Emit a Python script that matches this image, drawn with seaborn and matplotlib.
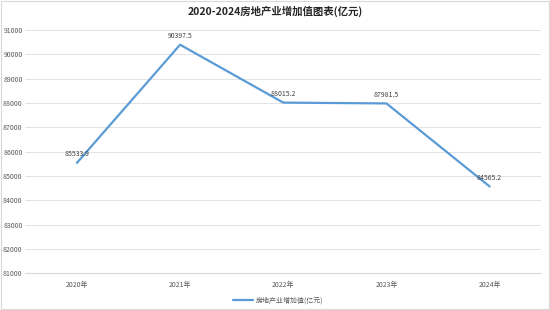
import matplotlib
matplotlib.use("Agg")
import matplotlib.pyplot as plt
import seaborn as sns
import pandas as pd

years = ["2020年", "2021年", "2022年", "2023年", "2024年"]
values = [85533.9, 90397.5, 88015.2, 87981.5, 84565.2]
series_name = "房地产业增加值(亿元)"
title = "2020-2024房地产业增加值图表(亿元)"
yticks = list(range(81000, 91001, 1000))

sns.set_theme(style="white")
plt.rcParams['font.family'] = ['Noto Sans CJK SC', 'DejaVu Sans']

df = pd.DataFrame({"year": years, "value": values})

fig = plt.figure(figsize=(5.5, 3.1), dpi=100)
ax = fig.add_axes([0.046, 0.119, 0.938, 0.784])
color = "#5B9BD5"
sns.lineplot(data=df, x="year", y="value", ax=ax, color=color, linewidth=1.6,
             label=series_name, sort=False)

ax.set_ylim(81000, 91000)
ax.set_xlim(-0.5, len(years) - 0.5)
ax.set_yticks(yticks)
ax.set_yticklabels([str(v) for v in yticks], fontsize=5, color="#595959")
ax.tick_params(axis="x", labelsize=5, colors="#595959", length=0, pad=6)
ax.tick_params(axis="y", length=0, pad=2)
ax.set_xlabel("")
ax.set_ylabel("")
ax.grid(axis="y", color="#e3e3e3", linewidth=0.7)
ax.set_axisbelow(True)
for s in ["left", "right", "top"]:
    ax.spines[s].set_visible(False)
ax.spines["bottom"].set_color("#d9d9d9")
ax.spines["bottom"].set_linewidth(0.8)

for i, v in enumerate(values):
    ax.annotate(f"{v:.1f}", (i, v), xytext=(0, 3.5), textcoords="offset points",
                ha="center", va="bottom", fontsize=5, color="#404040")

fig.text(0.5, 0.962, title, ha="center", va="center", fontsize=7.5,
         fontweight="bold", color="#262626")

leg = ax.legend(loc="upper center", bbox_to_anchor=(0.49, -0.07), frameon=False,
                fontsize=5, handlelength=3, handletextpad=0.4)
for t in leg.get_texts():
    t.set_color("#595959")

border = plt.Rectangle((0.002, 0.003), 0.996, 0.994, transform=fig.transFigure,
                       fill=False, edgecolor="#d9d9d9", linewidth=0.8)
fig.patches.append(border)

fig.savefig("out.png", dpi=100)
